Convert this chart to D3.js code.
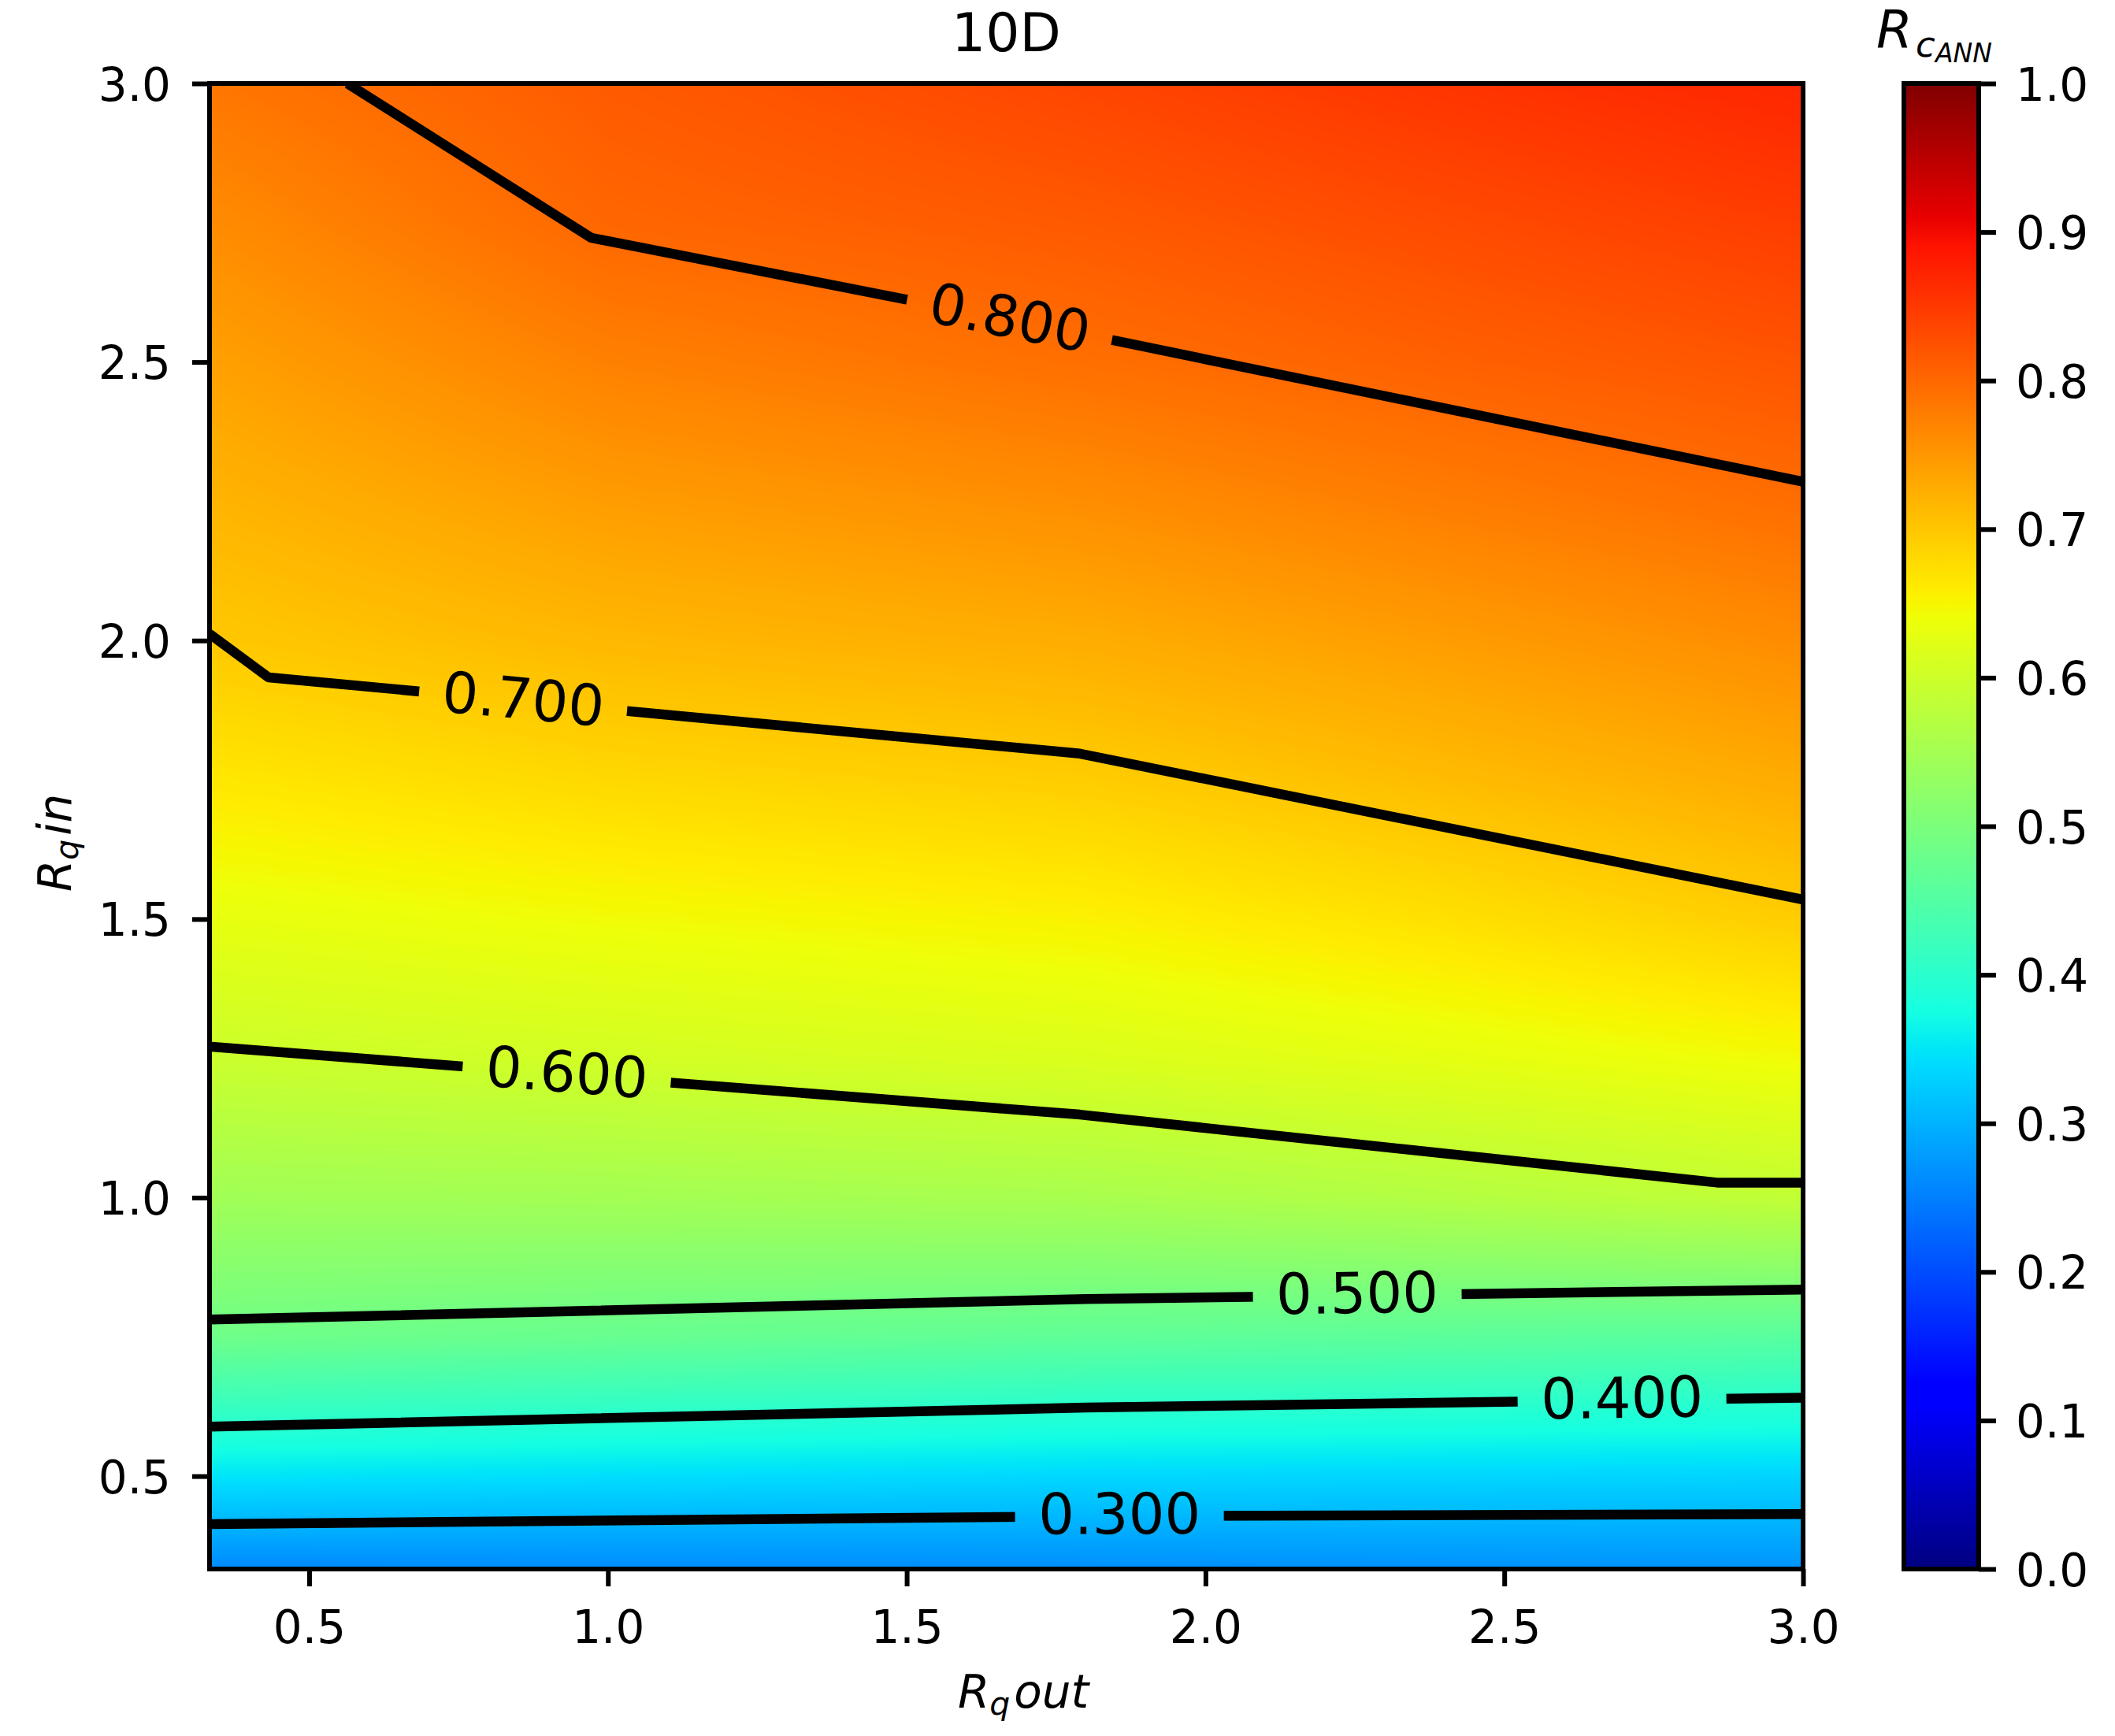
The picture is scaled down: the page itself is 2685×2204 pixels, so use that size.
<!DOCTYPE html>
<html>
<head>
<meta charset="utf-8">
<script src="https://cdnjs.cloudflare.com/ajax/libs/d3/7.8.5/d3.min.js"></script>
<style>
body { margin: 0; background: #fff; }
text { font-family: "DejaVu Sans", sans-serif; }
</style>
</head>
<body>
<div id="chart"></div>
<script>
// Grid nodes: Rq out along x, Rq in along y
const gridX = [0.3333, 1.0, 1.8, 2.4, 3.0];
const gridY = [0.3333, 0.5, 0.75, 1.0, 1.25, 1.5, 1.75, 2.0, 2.25, 2.5, 2.75, 3.0];
// R_cANN, one row per gridY value
const gridZ = [
    [0.260, 0.262, 0.265, 0.268, 0.270],
    [0.349, 0.343, 0.337, 0.335, 0.333],
    [0.484, 0.475, 0.465, 0.461, 0.456],
    [0.545, 0.548, 0.555, 0.569, 0.586],
    [0.596, 0.605, 0.616, 0.629, 0.644],
    [0.631, 0.643, 0.654, 0.672, 0.693],
    [0.665, 0.681, 0.693, 0.711, 0.729],
    [0.698, 0.715, 0.727, 0.744, 0.762],
    [0.719, 0.744, 0.760, 0.778, 0.795],
    [0.740, 0.774, 0.793, 0.808, 0.821],
    [0.762, 0.802, 0.816, 0.831, 0.846],
    [0.785, 0.815, 0.837, 0.855, 0.870]
];

// Contour levels and the lines they make, as [Rq out, Rq in]
const levels = [0.3, 0.4, 0.5, 0.6, 0.7, 0.8];
const line03 = [[0.3333, 0.414], [1.8, 0.428], [3.0, 0.432]];
const line04 = [[0.3333, 0.589], [1.8, 0.623], [3.0, 0.641]];
const line05 = [[0.3333, 0.781], [1.8, 0.818], [3.0, 0.835]];
const line06 = [[0.3333, 1.271], [1.79, 1.149], [2.856, 1.027], [3.0, 1.027]];
const line07 = [[0.3333, 2.012], [0.432, 1.934], [1.79, 1.797], [3.0, 1.535]];
const line08 = [[0.564, 3.0], [0.972, 2.723], [1.8, 2.549], [3.0, 2.285]];
const contourLines = [line03, line04, line05, line06, line07, line08];
// where each inline label sits (Rq out)
const labelX = [1.856, 2.697, 2.254, 0.931, 0.858, 1.672];

const xTicks = [0.5, 1.0, 1.5, 2.0, 2.5, 3.0];
const yTicks = [0.5, 1.0, 1.5, 2.0, 2.5, 3.0];
const cbTicks = [0.0, 0.1, 0.2, 0.3, 0.4, 0.5, 0.6, 0.7, 0.8, 0.9, 1.0];

// matplotlib jet
const jetStops = [0, 0.11, 0.125, 0.34, 0.35, 0.375, 0.64, 0.65, 0.66, 0.89, 0.91, 1];
const jetColors = ["#000080", "#0000ff", "#0000ff", "#00dbff", "#00e6f7", "#15ffe2",
                   "#eeff08", "#f7f600", "#ffec00", "#ff1300", "#e80000", "#800000"];

const W = 2685, H = 2204;
const plotLeft = 266, plotRight = 2289, plotTop = 106, plotBottom = 1992;
const cbLeft = 2417, cbRight = 2512;

const x = d3.scaleLinear().domain([0.3333, 3.0]).range([plotLeft, plotRight]);
const y = d3.scaleLinear().domain([0.3333, 3.0]).range([plotBottom, plotTop]);
const cbY = d3.scaleLinear().domain([0, 1]).range([plotBottom, plotTop]);
const jet = d3.scaleLinear().domain(jetStops).range(jetColors)
    .interpolate(d3.interpolateRgb).clamp(true);

const svg = d3.select("#chart").append("svg")
    .attr("width", W)
    .attr("height", H)
    .style("display", "block");

svg.append("rect").attr("width", W).attr("height", H).attr("fill", "#fff");

// Background field, bilinear between grid nodes, painted on a canvas
const cw = plotRight - plotLeft, ch = plotBottom - plotTop;
const canvas = document.createElement("canvas");
canvas.width = cw;
canvas.height = ch;
const ctx = canvas.getContext("2d");
const img = ctx.createImageData(cw, ch);
const lut = d3.range(1024).map(i => d3.rgb(jet(i / 1023)));

function cellIndex(grid, v) {
    const k = Math.min(Math.max(d3.bisectRight(grid, v) - 1, 0), grid.length - 2);
    const t = Math.max(0, Math.min(1, (v - grid[k]) / (grid[k + 1] - grid[k])));
    return [k, t];
}
const cols = d3.range(cw).map(i => cellIndex(gridX, x.invert(plotLeft + i + 0.5)));
const rows = d3.range(ch).map(j => cellIndex(gridY, y.invert(plotTop + j + 0.5)));

for (let j = 0; j < ch; j++) {
    const [r, u] = rows[j];
    for (let i = 0; i < cw; i++) {
        const [c, t] = cols[i];
        const lo = gridZ[r][c] * (1 - t) + gridZ[r][c + 1] * t;
        const hi = gridZ[r + 1][c] * (1 - t) + gridZ[r + 1][c + 1] * t;
        const v = lo * (1 - u) + hi * u;
        const col = lut[Math.max(0, Math.min(1023, Math.round(v * 1023)))];
        const p = (j * cw + i) * 4;
        img.data[p] = col.r;
        img.data[p + 1] = col.g;
        img.data[p + 2] = col.b;
        img.data[p + 3] = 255;
    }
}
ctx.putImageData(img, 0, 0);

svg.append("image")
    .attr("x", plotLeft)
    .attr("y", plotTop)
    .attr("width", cw)
    .attr("height", ch)
    .attr("preserveAspectRatio", "none")
    .attr("href", canvas.toDataURL());

// Contour lines with gaps for the labels
const defs = svg.append("defs");
defs.append("clipPath").attr("id", "plot-clip")
    .append("rect")
    .attr("x", plotLeft).attr("y", plotTop)
    .attr("width", cw).attr("height", ch);

function pointOn(line, lx) {
    for (let i = 0; i < line.length - 1; i++) {
        const [x0, y0] = line[i], [x1, y1] = line[i + 1];
        if (lx >= Math.min(x0, x1) && lx <= Math.max(x0, x1)) {
            const t = (lx - x0) / (x1 - x0);
            const ly = y0 + t * (y1 - y0);
            const ang = Math.atan2(y(y1) - y(y0), x(x1) - x(x0)) * 180 / Math.PI;
            return [x(lx), y(ly), ang];
        }
    }
}
const labelPos = contourLines.map((line, i) => pointOn(line, labelX[i]));

const mask = defs.append("mask").attr("id", "label-gaps")
    .attr("maskUnits", "userSpaceOnUse")
    .attr("x", 0).attr("y", 0).attr("width", W).attr("height", H);
mask.append("rect").attr("width", W).attr("height", H).attr("fill", "white");
mask.selectAll(".gap")
    .data(labelPos)
    .enter()
    .append("rect")
    .attr("class", "gap")
    .attr("x", -132.5)
    .attr("y", -40)
    .attr("width", 265)
    .attr("height", 80)
    .attr("fill", "black")
    .attr("transform", d => `translate(${d[0]},${d[1]}) rotate(${d[2]})`);

const lineGen = d3.line().x(d => x(d[0])).y(d => y(d[1]));

svg.append("g")
    .attr("clip-path", "url(#plot-clip)")
    .append("g")
    .attr("mask", "url(#label-gaps)")
    .selectAll("path")
    .data(contourLines)
    .enter()
    .append("path")
    .attr("d", lineGen)
    .attr("fill", "none")
    .attr("stroke", "#000")
    .attr("stroke-width", 12.5)
    .attr("stroke-linejoin", "round")
    .attr("stroke-linecap", "butt");

svg.selectAll(".clabel")
    .data(labelPos)
    .enter()
    .append("text")
    .attr("class", "clabel")
    .attr("transform", d => `translate(${d[0]},${d[1]}) rotate(${d[2]})`)
    .attr("text-anchor", "middle")
    .attr("dy", "0.31em")
    .attr("font-size", 72)
    .text((d, i) => d3.format(".3f")(levels[i]));

// Axes
const fmt = d3.format(".1f");

svg.append("g")
    .attr("transform", `translate(0,${plotBottom})`)
    .call(d3.axisBottom(x).tickValues(xTicks).tickFormat(fmt).tickSize(22).tickSizeOuter(0))
    .attr("font-size", 58)
    .attr("font-family", "DejaVu Sans")
    .call(g => g.select(".domain").remove())
    .call(g => g.selectAll(".tick line").attr("stroke-width", 6))
    .call(g => g.selectAll(".tick text").attr("y", 94).attr("dy", 0));

svg.append("g")
    .attr("transform", `translate(${plotLeft},0)`)
    .call(d3.axisLeft(y).tickValues(yTicks).tickFormat(fmt).tickSize(22).tickSizeOuter(0))
    .attr("font-size", 58)
    .attr("font-family", "DejaVu Sans")
    .call(g => g.select(".domain").remove())
    .call(g => g.selectAll(".tick line").attr("stroke-width", 6))
    .call(g => g.selectAll(".tick text").attr("x", -49).attr("dy", 21));

svg.append("rect")
    .attr("x", plotLeft)
    .attr("y", plotTop)
    .attr("width", cw)
    .attr("height", ch)
    .attr("fill", "none")
    .attr("stroke", "#000")
    .attr("stroke-width", 6);

// Colorbar
const grad = defs.append("linearGradient")
    .attr("id", "jet-grad")
    .attr("x1", 0).attr("y1", 1).attr("x2", 0).attr("y2", 0);
grad.selectAll("stop")
    .data(jetStops)
    .enter()
    .append("stop")
    .attr("offset", d => d)
    .attr("stop-color", d => jet(d));

svg.append("rect")
    .attr("x", cbLeft)
    .attr("y", cbY(1))
    .attr("width", cbRight - cbLeft)
    .attr("height", cbY(0) - cbY(1))
    .attr("fill", "url(#jet-grad)");

svg.append("g")
    .attr("transform", `translate(${cbRight},0)`)
    .call(d3.axisRight(cbY).tickValues(cbTicks).tickFormat(fmt).tickSize(22).tickSizeOuter(0))
    .attr("font-size", 58)
    .attr("font-family", "DejaVu Sans")
    .call(g => g.select(".domain").remove())
    .call(g => g.selectAll(".tick line").attr("stroke-width", 6))
    .call(g => g.selectAll(".tick text").attr("x", 47).attr("dy", 21));

svg.append("rect")
    .attr("x", cbLeft)
    .attr("y", cbY(1))
    .attr("width", cbRight - cbLeft)
    .attr("height", cbY(0) - cbY(1))
    .attr("fill", "none")
    .attr("stroke", "#000")
    .attr("stroke-width", 6);

// Titles and axis labels
svg.append("text")
    .attr("x", (plotLeft + plotRight) / 2)
    .attr("y", 65)
    .attr("text-anchor", "middle")
    .attr("font-size", 68)
    .text("10D");

const cbLabel = svg.append("text").attr("font-style", "italic");
cbLabel.append("tspan").attr("x", 2382).attr("y", 60).attr("font-size", 66).text("R");
cbLabel.append("tspan").attr("x", 2432).attr("y", 72).attr("font-size", 45).text("c");
cbLabel.append("tspan").attr("x", 2457).attr("y", 79).attr("font-size", 33).text("ANN");

const xLabel = svg.append("text")
    .attr("x", 1216)
    .attr("y", 2168)
    .attr("font-style", "italic")
    .attr("font-size", 58);
xLabel.append("tspan").text("R");
xLabel.append("tspan").attr("font-size", 41).attr("dy", 9).text("q");
xLabel.append("tspan").attr("dy", -9).attr("dx", 5).text("out");

const yLabel = svg.append("text")
    .attr("transform", "translate(90,1132) rotate(-90)")
    .attr("font-style", "italic")
    .attr("font-size", 58);
yLabel.append("tspan").text("R");
yLabel.append("tspan").attr("font-size", 41).attr("dy", 9).text("q");
yLabel.append("tspan").attr("dy", -9).attr("dx", 5).text("in");
</script>
</body>
</html>
